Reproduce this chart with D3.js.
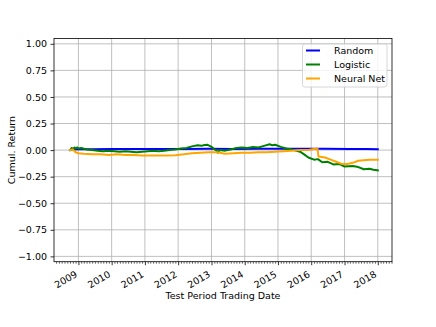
<!DOCTYPE html>
<html><head><meta charset="utf-8">
<script src="https://cdn.jsdelivr.net/npm/d3@7"></script>
<style>body{margin:0;background:#fff;}svg{display:block;font-family:"DejaVu Sans",sans-serif;}</style>
</head><body>
<svg id="c" width="436" height="327"></svg>
<script>
const seriesNames = ["Random", "Logistic", "Neural Net"];
const seriesColors = ["#0000ff", "#008000", "#ffa500"];
const yTicks = [1.00, 0.75, 0.50, 0.25, 0.00, -0.25, -0.50, -0.75, -1.00];
const xTickYears = [2009, 2010, 2011, 2012, 2013, 2014, 2015, 2016, 2017, 2018];

const randomDates = ["2008-10-01","2008-11-01","2009-01-01","2009-06-01","2010-01-01","2010-09-01","2011-06-01","2012-03-01","2012-12-01","2013-09-01","2014-06-01","2015-03-01","2015-12-01","2016-06-01","2017-03-01","2017-09-01","2018-01-01"];
const randomValues = [0.0, 0.006, 0.008, 0.009, 0.010, 0.010, 0.011, 0.011, 0.012, 0.011, 0.012, 0.012, 0.013, 0.012, 0.011, 0.010, 0.009];

const logisticDates = ["2008-10-01","2008-10-20","2008-11-01","2008-11-20","2008-12-01","2008-12-20","2009-01-01","2009-02-01","2009-04-01","2009-06-01","2009-08-01","2009-10-01","2009-12-01","2010-02-01","2010-04-01","2010-06-01","2010-08-01","2010-10-01","2010-12-01","2011-02-01","2011-04-01","2011-06-01","2011-08-01","2011-10-01","2011-12-01","2012-02-01","2012-04-01","2012-06-01","2012-08-01","2012-09-15","2012-10-01","2012-11-15","2012-12-01","2013-01-01","2013-02-01","2013-03-01","2013-03-10","2013-04-01","2013-06-01","2013-08-01","2013-10-01","2013-12-01","2014-02-01","2014-04-01","2014-06-01","2014-08-01","2014-10-01","2014-11-01","2014-12-01","2015-02-01","2015-04-01","2015-06-01","2015-09-01","2015-10-15","2015-12-01","2016-02-01","2016-03-15","2016-05-01","2016-07-01","2016-09-01","2016-11-01","2017-01-01","2017-04-01","2017-06-01","2017-08-01","2017-10-01","2017-11-15","2018-01-01"];
const logisticValues = [0.0, 0.02, 0.01, 0.025, 0.015, 0.025, 0.015, 0.02, 0.005, 0.0, -0.005, -0.01, -0.005, -0.01, -0.015, -0.01, -0.015, -0.02, -0.015, -0.01, -0.005, -0.01, -0.005, 0.0, 0.005, 0.015, 0.02, 0.035, 0.045, 0.04, 0.045, 0.05, 0.045, 0.03, 0.01, -0.005, -0.025, 0.0, -0.005, 0.005, 0.02, 0.025, 0.02, 0.03, 0.025, 0.04, 0.055, 0.045, 0.05, 0.03, 0.015, 0.005, -0.015, -0.04, -0.07, -0.09, -0.085, -0.115, -0.11, -0.135, -0.13, -0.155, -0.15, -0.16, -0.18, -0.175, -0.185, -0.19];

const neuralDates = ["2008-10-01","2008-11-01","2008-12-01","2009-01-01","2009-03-01","2009-06-01","2009-09-01","2009-12-01","2010-03-01","2010-06-01","2010-09-01","2010-12-01","2011-03-01","2011-06-01","2011-09-01","2011-12-01","2012-03-01","2012-06-01","2012-09-01","2012-12-01","2013-03-01","2013-06-01","2013-09-01","2013-12-01","2014-03-01","2014-06-01","2014-09-01","2014-12-01","2015-03-01","2015-06-01","2015-09-01","2015-12-01","2016-02-01","2016-03-10","2016-03-20","2016-06-01","2016-08-01","2016-10-01","2016-12-01","2017-02-01","2017-04-01","2017-06-01","2017-08-01","2017-10-01","2018-01-01"];
const neuralValues = [0.0, 0.005, -0.02, -0.03, -0.035, -0.04, -0.04, -0.045, -0.04, -0.045, -0.045, -0.05, -0.05, -0.05, -0.05, -0.048, -0.04, -0.03, -0.025, -0.02, -0.02, -0.035, -0.03, -0.025, -0.025, -0.02, -0.02, -0.015, -0.01, -0.005, 0.0, 0.0, 0.01, 0.015, -0.06, -0.07, -0.09, -0.11, -0.13, -0.13, -0.12, -0.10, -0.095, -0.09, -0.09];

const parse = d3.timeParse("%Y-%m-%d");
const series = [
  {name: seriesNames[0], color: seriesColors[0], pts: randomDates.map((d,i)=>({x:parse(d), y:randomValues[i]}))},
  {name: seriesNames[1], color: seriesColors[1], pts: logisticDates.map((d,i)=>({x:parse(d), y:logisticValues[i]}))},
  {name: seriesNames[2], color: seriesColors[2], pts: neuralDates.map((d,i)=>({x:parse(d), y:neuralValues[i]}))}
];

const L = 54, R = 392, T = 38.5, B = 261.7;
const svg = d3.select("#c");
const x = d3.scaleTime().domain([new Date(2008, 3, 8), new Date(2018, 5, 6)]).range([L, R]);
const y = d3.scaleLinear().domain([-1.05, 1.05]).range([B, T]);

// grid
const g = svg.append("g");
g.selectAll("line.gx").data(xTickYears).join("line")
  .attr("x1", d=>x(new Date(d,0,1))).attr("x2", d=>x(new Date(d,0,1)))
  .attr("y1", T).attr("y2", B).attr("stroke", "#b0b0b0").attr("stroke-width", 0.8);
g.selectAll("line.gy").data(yTicks).join("line")
  .attr("x1", L).attr("x2", R).attr("y1", d=>y(d)).attr("y2", d=>y(d))
  .attr("stroke", "#b0b0b0").attr("stroke-width", 0.8);

// lines
const line = d3.line().x(d=>x(d.x)).y(d=>y(d.y));
svg.append("g").selectAll("path").data(series).join("path")
  .attr("d", d=>line(d.pts)).attr("fill", "none").attr("stroke", d=>d.color)
  .attr("stroke-width", 2).attr("stroke-linejoin", "round").attr("stroke-linecap", "square");

// axes
const fmtY = v => (v < 0 ? "\u2212" : "") + Math.abs(v).toFixed(2);
const yAxis = d3.axisLeft(y).tickValues(yTicks).tickFormat(fmtY).tickSize(3.5).tickPadding(3.5);
const ya = svg.append("g").attr("transform", `translate(${L},0)`).call(yAxis);
ya.select(".domain").remove();
ya.selectAll("text").attr("font-size", "9.5px").attr("fill", "#000").attr("font-family", "DejaVu Sans");
ya.selectAll("line").attr("stroke", "#000").attr("stroke-width", 0.8);

const months = d3.timeMonth.range(new Date(2008, 4, 1), new Date(2018, 6, 1)).filter(d=>x(d)>=L && x(d)<=R && d.getMonth()!==0);
const xMinor = d3.axisBottom(x).tickValues(months).tickFormat("").tickSize(2);
const xm = svg.append("g").attr("transform", `translate(0,${B})`).call(xMinor);
xm.select(".domain").remove();
xm.selectAll("line").attr("stroke", "#000").attr("stroke-width", 0.6);

const xAxis = d3.axisBottom(x).tickValues(xTickYears.map(d=>new Date(d,0,1))).tickFormat(d3.timeFormat("%Y")).tickSize(3.5).tickPadding(3.5);
const xa = svg.append("g").attr("transform", `translate(0,${B})`).call(xAxis);
xa.select(".domain").remove();
xa.selectAll("line").attr("stroke", "#000").attr("stroke-width", 0.8);
xa.selectAll("text").attr("font-size", "9.5px").attr("fill", "#000").attr("font-family", "DejaVu Sans")
  .attr("text-anchor", "end").attr("dy", 0).attr("y", 0).attr("x", 0)
  .attr("transform", "translate(-1,14.6) rotate(-30)");

// spines
svg.append("rect").attr("x", L).attr("y", T).attr("width", R-L).attr("height", B-T)
  .attr("fill", "none").attr("stroke", "#000").attr("stroke-width", 0.8);

// axis labels
svg.append("text").attr("x", (L+R)/2).attr("y", 299).attr("text-anchor", "middle")
  .attr("font-size", "9.5px").text("Test Period Trading Date");
svg.append("text").attr("transform", `translate(15,${(T+B)/2}) rotate(-90)`).attr("text-anchor", "middle")
  .attr("font-size", "9.5px").text("Cumul. Return");

// legend
const lg = svg.append("g");
lg.append("rect").attr("x", 302.5).attr("y", 44).attr("width", 84.5).attr("height", 43).attr("rx", 2.5)
  .attr("fill", "#fff").attr("fill-opacity", 0.8).attr("stroke", "#cccccc").attr("stroke-width", 0.8);
series.forEach((s, i) => {
  const yy = 50.5 + i * 14;
  lg.append("line").attr("x1", 306).attr("x2", 320).attr("y1", yy).attr("y2", yy)
    .attr("stroke", s.color).attr("stroke-width", 2);
  lg.append("text").attr("x", 334).attr("y", yy).attr("dy", "0.35em").attr("font-size", "9.5px").text(s.name);
});
</script>
</body></html>
